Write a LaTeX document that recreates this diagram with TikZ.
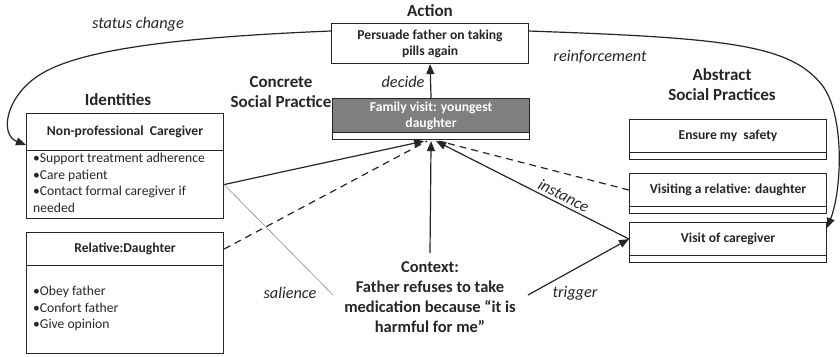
\documentclass[tikz,border=0pt]{standalone}
\usepackage{fontspec}
\setmainfont{Carlito}
\usetikzlibrary{arrows.meta,calc}
\definecolor{ink}{HTML}{262626}
\definecolor{practicegray}{HTML}{7F7F7F}

\begin{document}
\begin{tikzpicture}[x=1pt,y=-1pt,
  every node/.style={text=ink},
  hdr/.style={draw=ink, line width=1.1pt, rectangle, inner sep=2pt, anchor=north west,
    minimum width=197pt, align=center, font=\fontsize{13.6}{16}\selectfont\bfseries},
  strip/.style={draw=ink, line width=1.1pt, rectangle, inner sep=0pt, anchor=north west,
    minimum width=197pt},
  bullets/.style={anchor=north west, align=left, inner sep=0pt,
    font=\fontsize{13.6}{16.5}\selectfont},
  heading/.style={align=center, font=\fontsize{17}{20}\selectfont\bfseries},
  rel/.style={font=\fontsize{16.3}{18}\selectfont\itshape},
  conn/.style={draw=ink, line width=1.2pt},
  tip/.style={-{Triangle[length=10pt,width=8pt]}},
  dashconn/.style={conn, dash pattern=on 7pt off 5pt},
]
\useasboundingbox (0,0) rectangle (840,356);

% headings
\node[heading] (hAction) at (430,11) {Action};
\node[heading] (hConcrete) at (281,92) {Concrete\\Social Practice};
\node[heading] (hIdent) at (118,100) {Identities};
\node[heading] (hAbstract) at (722,85) {Abstract\\Social Practices};

% action
\node[hdr, minimum height=40pt] (act) at (331,23) {Persuade father on taking\\pills again};

% concrete social practice
\node[hdr, minimum height=34pt, fill=practicegray, text=white] (fam) at (332,98) {Family visit: youngest\\daughter};
\node[strip, minimum height=7pt] (famstrip) at (332,132) {};

% identities
\node[hdr, minimum height=37pt] (npc) at (26,113) {Non-professional\ \ Caregiver};
\node[strip, minimum height=68pt] (npcbody) at (26,150) {};
\node[bullets] (npclist) at (33,153) {•Support treatment adherence\\•Care patient\\•Contact formal caregiver if\\needed};

\node[hdr, minimum height=33pt] (relh) at (26,232) {Relative:Daughter};
\node[strip, minimum height=88pt] (relbody) at (26,265) {};
\node[bullets] (rellist) at (33,286) {•Obey father\\•Confort father\\•Give opinion};

% abstract social practices
\node[hdr, minimum height=33pt] (ens) at (629,119) {Ensure my\ \ safety};
\node[strip, minimum height=7pt] (ensstrip) at (629,152) {};
\node[hdr, minimum height=33pt] (vis) at (629,173) {Visiting a relative: daughter};
\node[strip, minimum height=7pt] (visstrip) at (629,206) {};
\node[hdr, minimum height=33pt] (voc) at (629,222) {Visit of caregiver};
\node[strip, minimum height=7pt] (vocstrip) at (629,255) {};

% context
\node[align=center, font=\fontsize{16.5}{20}\selectfont\bfseries] (ctx) at (430,297)
  {Context:\\Father refuses to take\\medication because “it is\\harmful for me”};

% meeting points under the concrete practice
\coordinate (inA) at ($(famstrip.south)+(-7,1)$);
\coordinate (inB) at ($(famstrip.south)+(-4,1)$);
\coordinate (inC) at ($(famstrip.south)+(0,1)$);
\coordinate (inD) at ($(famstrip.south)+(5,1)$);
\coordinate (inE) at ($(famstrip.south)+(8,1)$);
\coordinate (ctxtop) at (430,253);
\coordinate (salEnd) at (333,295);
\coordinate (trigStart) at (528,295);
\coordinate (statusIn) at (26,145);
\coordinate (reinfIn) at (827,228);
\coordinate (actL) at (331,31);
\coordinate (actR) at (528,31);

% connectors into the concrete practice
\draw[dashconn] (relh.east) -- (inB);
\draw[dashconn] (vis.west) -- (inE);
\draw[conn, tip] (npcbody.east) -- (inA);
\draw[conn, tip] (ctxtop) -- (inC);
\draw[conn, tip] (voc.west) -- (inD)
  node[rel, pos=0.36, above, sloped, inner sep=3pt] (lInst) {instance};
\draw[draw=black!45, line width=0.6pt] (npcbody.east) -- (salEnd);
\draw[conn, tip] (trigStart) -- (voc.west);
\draw[conn, tip] (fam.north) -- (act.south);

% feedback curves
\draw[conn, tip] (actL) .. controls (160,38) and (70,52) .. (35,78)
  .. controls (5,100) and (0,135) .. (statusIn);
\draw[conn, tip] (actR) .. controls (730,38) and (790,45) .. (822,85)
  .. controls (845,115) and (842,190) .. (reinfIn);

% relation labels
\node[rel] (lStatus) at (138,24) {status change};
\node[rel] (lReinf) at (600,57) {reinforcement};
\node[rel] (lDecide) at (403,82) {decide};
\node[rel] (lSal) at (290,293) {salience};
\node[rel] (lTrig) at (575,293) {trigger};
\end{tikzpicture}
\end{document}
